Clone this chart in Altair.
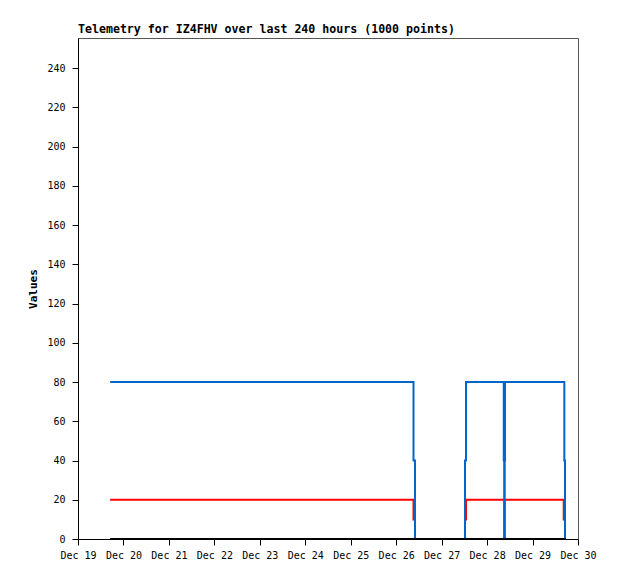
import altair as alt
import pandas as pd

# Blue series (step values)
blue_t = ["2023-12-19T17:30", "2023-12-26T09:09", "2023-12-26T09:56", "2023-12-27T12:20",
          "2023-12-27T12:52", "2023-12-28T08:48", "2023-12-28T09:02", "2023-12-28T09:18",
          "2023-12-28T09:28", "2023-12-29T16:47", "2023-12-29T17:08"]
blue_v = [80, 40, 0, 40, 80, 40, 0, 40, 80, 40, 0]

# Red series
red_t = ["2023-12-19T17:30", "2023-12-26T09:09", "2023-12-26T09:56", "2023-12-27T12:20",
         "2023-12-27T12:52", "2023-12-28T09:10", "2023-12-28T09:12", "2023-12-28T09:14",
         "2023-12-28T09:16", "2023-12-29T16:28", "2023-12-29T17:08"]
red_v = [20, 10, 0, 10, 20, 10, 0, 10, 20, 10, 0]

# Black series (zero)
black_t = ["2023-12-19T17:30", "2023-12-29T17:08"]
black_v = [0, 0]

y_ticks = list(range(0, 260, 20))
x_days = list(range(19, 31))

FONT = "DejaVu Sans Mono"

x_scale = alt.Scale(domain=[alt.DateTime(year=2023, month=12, date=19),
                            alt.DateTime(year=2023, month=12, date=30)])
y_scale = alt.Scale(domain=[0, 255.3], nice=False)

x_axis = alt.Axis(title=None, format="%b %d",
                  values=[alt.DateTime(year=2023, month=12, date=d) for d in x_days],
                  grid=False, domainColor="black", tickColor="black", tickSize=6,
                  labelFont=FONT, labelFontSize=10, labelColor="black", labelPadding=5,
                  labelFlush=False)
y_axis = alt.Axis(title="Values", values=y_ticks, grid=False, domainColor="black",
                  tickColor="black", tickSize=6, labelFont=FONT, labelFontSize=10,
                  labelColor="black", labelPadding=7, titleFont=FONT, titleFontSize=11,
                  titleFontWeight="bold", titleColor="black", titlePadding=8)


def series(ts, vs, color):
    df = pd.DataFrame({"t": ts, "v": vs})
    return alt.Chart(df).mark_line(interpolate="step-after", color=color, strokeWidth=2,
                                   strokeCap="square").encode(
        x=alt.X("t:T", scale=x_scale, axis=x_axis),
        y=alt.Y("v:Q", scale=y_scale, axis=y_axis),
    )


chart = alt.layer(
    series(red_t, red_v, "#ff0000"),
    series(blue_t, blue_v, "#0066cc"),
    series(black_t, black_v, "#000000"),
).properties(
    width=500, height=501,
    title=alt.TitleParams("Telemetry for IZ4FHV over last 240 hours (1000 points)",
                          anchor="start", frame="group", font=FONT, fontSize=11.6,
                          fontWeight="bold", color="black", offset=2),
    autosize=alt.AutoSizeParams(type="none"),
    padding={"left": 70, "top": 30, "right": 32, "bottom": 32},
).configure_view(stroke="#555555", strokeWidth=1)

chart.save("out.html", embed_options={"renderer": "svg", "actions": False})
